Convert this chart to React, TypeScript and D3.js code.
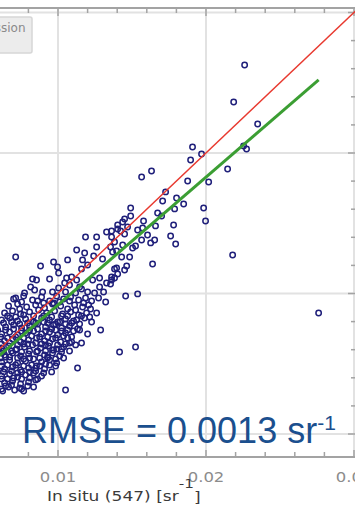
import React from 'react';
import * as d3 from 'd3';

const WIDTH = 355;
const HEIGHT = 510;

// Rrs(547) match-ups: [in situ, satellite], sr^-1
const matchups: [number, number][] = [
  // sparse upper points
  [0.02261, 0.02626], [0.02187, 0.02363], [0.02349, 0.02206], [0.01909, 0.02043],
  [0.0197, 0.01993], [0.01896, 0.0195], [0.02254, 0.0205], [0.02274, 0.02029],
  [0.02146, 0.01886], [0.01632, 0.01872], [0.01565, 0.01829], [0.01876, 0.01801],
  [0.02018, 0.01794], [0.01727, 0.01723], [0.01801, 0.0168], [0.01707, 0.01658],
  [0.01849, 0.01637], [0.01491, 0.01609], [0.01788, 0.01602], [0.01984, 0.01609],
  [0.01673, 0.01573], [0.01491, 0.01552], [0.017, 0.01552], [0.01997, 0.01516],
  [0.0145, 0.0153], [0.01437, 0.01509], [0.01578, 0.01516], [0.01781, 0.01488],
  [0.01659, 0.01481], [0.01403, 0.01488], [0.0147, 0.01473], [0.01362, 0.01445],
  [0.01423, 0.01445], [0.01538, 0.01452], [0.01572, 0.01466], [0.01605, 0.01416],
  [0.01761, 0.01409], [0.0145, 0.01424], [0.01565, 0.01381], [0.01626, 0.0136],
  [0.01653, 0.01381], [0.01795, 0.01352], [0.01362, 0.01402], [0.01437, 0.01345],
  [0.01524, 0.01338], [0.01355, 0.01331], [0.01504, 0.01324], [0.01396, 0.01303],
  [0.01369, 0.01295], [0.0143, 0.0126], [0.01484, 0.0126], [0.01639, 0.0121],
  [0.01464, 0.01196], [0.01396, 0.01182], [0.0145, 0.01167], [0.01382, 0.01175],
  [0.01403, 0.01139], [0.01362, 0.01096], [0.01355, 0.01068], [0.01457, 0.00982],
  [0.01538, 0.00997], [0.01416, 0.00584], [0.01524, 0.00619], [0.01261, 0.00861],
  [0.01288, 0.0074], [0.01132, 0.0047], [0.01051, 0.00313], [0.00754, 0.0032],
  [0.0218, 0.01274], [0.02761, 0.00861], [0.01328, 0.01438], [0.01403, 0.01459],
  [0.01382, 0.01367], [0.01301, 0.01246], [0.00714, 0.0126], [0.00882, 0.01196],
  [0.0097, 0.01224], [0.01065, 0.01239], [0.01126, 0.0131], [0.01186, 0.01402],
  [0.01261, 0.01402], [0.01261, 0.01331], [0.0118, 0.01288], [0.01241, 0.01267],
  [0.01166, 0.01239], [0.012, 0.01203], [0.01159, 0.01175], [0.00997, 0.01189],
  [0.01004, 0.01146], [0.00943, 0.01103], [0.00828, 0.01103], [0.00855, 0.01096],
  [0.00815, 0.01046], [0.00842, 0.01025], [0.00896, 0.01011], [0.00963, 0.01011],
  [0.01004, 0.01039], [0.01058, 0.0111], [0.01092, 0.01118], [0.01126, 0.01096],
  [0.01146, 0.01046], [0.01078, 0.01061], [0.01045, 0.01075], [0.01234, 0.01096],
  [0.01281, 0.0111], [0.01328, 0.01075], [0.01362, 0.01118], [0.01382, 0.0111],
  [0.01281, 0.01046], [0.01247, 0.01004], [0.012, 0.01011], [0.00714, 0.00968],
  [0.01126, 0.00811], [0.01092, 0.00655], [0.01159, 0.00648], [0.01322, 0.0094],
  [0.01274, 0.00968], [0.01207, 0.00918], [0.0093, 0.00541], [0.00849, 0.0047],
  [0.00626, 0.00306],
  // dense low-reflectance cluster
  [0.007, 0.00961], [0.00768, 0.00982], [0.00828, 0.00954], [0.00889, 0.00975],
  [0.00943, 0.00947], [0.00991, 0.00982], [0.01038, 0.00961], [0.01085, 0.00975],
  [0.01139, 0.00954], [0.01186, 0.00968], [0.01227, 0.00947],
  [0.00666, 0.00911], [0.00727, 0.00925], [0.00788, 0.00904], [0.00849, 0.00918],
  [0.00909, 0.00897], [0.00963, 0.00925], [0.01018, 0.00911], [0.01065, 0.0089],
  [0.01112, 0.00918], [0.01166, 0.00904], [0.0122, 0.0089],
  [0.00639, 0.00861], [0.00693, 0.00876], [0.00747, 0.00854], [0.00808, 0.00869],
  [0.00869, 0.00883], [0.00923, 0.00861], [0.00977, 0.00876], [0.01031, 0.00854],
  [0.01085, 0.00869], [0.01139, 0.00847], [0.01193, 0.00861],
  [0.00619, 0.00811], [0.00673, 0.00826], [0.00727, 0.00804], [0.00781, 0.00819],
  [0.00835, 0.00797], [0.00889, 0.00826], [0.00943, 0.00811], [0.00997, 0.00797],
  [0.01051, 0.00819], [0.01105, 0.00804], [0.0118, 0.00826], [0.01227, 0.00797],
  [0.00646, 0.00762], [0.007, 0.00776], [0.00754, 0.00755], [0.00808, 0.00769],
  [0.00862, 0.00783], [0.00916, 0.00762], [0.0097, 0.00776], [0.01024, 0.00755],
  [0.01078, 0.00769], [0.01132, 0.00747],
  [0.00619, 0.00712], [0.00673, 0.00726], [0.00727, 0.00705], [0.00781, 0.00719],
  [0.00835, 0.00733], [0.00889, 0.00712], [0.00943, 0.00726], [0.00997, 0.00705],
  [0.01051, 0.00719], [0.01105, 0.00733], [0.012, 0.00712],
  [0.00639, 0.00662], [0.00693, 0.00676], [0.00747, 0.00655], [0.00801, 0.00669],
  [0.00855, 0.00683], [0.00909, 0.00662], [0.00963, 0.00676], [0.01018, 0.00655],
  [0.01065, 0.00683],
  [0.00619, 0.00612], [0.00666, 0.00627], [0.0072, 0.00605], [0.00774, 0.00619],
  [0.00828, 0.00634], [0.00882, 0.00612], [0.00936, 0.00627], [0.00991, 0.00605],
  [0.01038, 0.00619],
  [0.00639, 0.00562], [0.00693, 0.00577], [0.00747, 0.00555], [0.00801, 0.0057],
  [0.00855, 0.00584], [0.00909, 0.00562], [0.00963, 0.00577], [0.01011, 0.00555],
  [0.00619, 0.00513], [0.00673, 0.00527], [0.00727, 0.00506], [0.00781, 0.0052],
  [0.00835, 0.00534], [0.00889, 0.00513], [0.00943, 0.00527], [0.00991, 0.00506],
  [0.00639, 0.00463], [0.00693, 0.00477], [0.00747, 0.00456], [0.00801, 0.0047],
  [0.00855, 0.00484], [0.00909, 0.00463],
  [0.00619, 0.00413], [0.00673, 0.00427], [0.00727, 0.00406], [0.00781, 0.0042],
  [0.00835, 0.00434], [0.00889, 0.00413],
  [0.00639, 0.00363], [0.00693, 0.00377], [0.00747, 0.00356], [0.00801, 0.0037],
  [0.00849, 0.00385],
  [0.00619, 0.0032], [0.00666, 0.00335], [0.00707, 0.00313], [0.00795, 0.00342],
  [0.00741, 0.0089], [0.00835, 0.0084], [0.0093, 0.0079], [0.01024, 0.0084],
  [0.00984, 0.0074], [0.00876, 0.00691], [0.00768, 0.00641], [0.00686, 0.00591],
  [0.00808, 0.00541], [0.00714, 0.00491], [0.00659, 0.00392], [0.00916, 0.00634],
  [0.01051, 0.00783], [0.01119, 0.00883], [0.01011, 0.0094], [0.00903, 0.00933],
  [0.00795, 0.0079], [0.00862, 0.00591], [0.00754, 0.00442], [0.00646, 0.00548],
  [0.00943, 0.00491], [0.01078, 0.00648],
  [0.00774, 0.01004], [0.01051, 0.01011], [0.01119, 0.01004], [0.01159, 0.01032],
  [0.01308, 0.01011], [0.00963, 0.00598], [0.01024, 0.00605],
  [0.00592, 0.0074], [0.00592, 0.00598], [0.00592, 0.00442],
  [0.00754, 0.0094], [0.00862, 0.00947], [0.0097, 0.00933], [0.01078, 0.00947], [0.01173, 0.00933],
  [0.00659, 0.0084], [0.00714, 0.00833], [0.00768, 0.00847], [0.00903, 0.0084],
  [0.00957, 0.00833], [0.01065, 0.0084], [0.01159, 0.0084], [0.01214, 0.00833],
  [0.00632, 0.0079], [0.00686, 0.00797], [0.00741, 0.00783], [0.00849, 0.0079],
  [0.00903, 0.00797], [0.00984, 0.00783], [0.01011, 0.00797], [0.01092, 0.0079], [0.01146, 0.00783],
  [0.00646, 0.0074], [0.007, 0.00747], [0.00754, 0.00733], [0.00808, 0.0074], [0.00862, 0.00747],
  [0.00916, 0.00733], [0.00957, 0.00747], [0.01024, 0.00733], [0.01065, 0.0074], [0.01146, 0.0074],
  [0.00612, 0.00691], [0.00659, 0.00683], [0.00714, 0.00691], [0.00768, 0.00683], [0.00822, 0.00698],
  [0.0093, 0.00691], [0.00984, 0.00683], [0.01038, 0.00698], [0.01092, 0.00691],
  [0.00619, 0.00641], [0.00673, 0.00648], [0.00727, 0.00634], [0.00795, 0.00641], [0.00849, 0.00648],
  [0.00889, 0.00641], [0.00943, 0.00648], [0.00997, 0.00634], [0.01051, 0.00641], [0.01119, 0.00634],
  [0.00632, 0.00591], [0.00714, 0.00598], [0.00754, 0.00584], [0.00808, 0.00591],
  [0.00916, 0.00591], [0.0097, 0.00598], [0.01024, 0.00584], [0.01078, 0.00591],
  [0.00612, 0.00541], [0.00673, 0.00548], [0.00727, 0.00541], [0.00768, 0.00534],
  [0.00876, 0.00541], [0.0093, 0.00548], [0.00984, 0.00534], [0.01038, 0.00541],
  [0.00619, 0.00484], [0.00659, 0.00491], [0.00768, 0.00484], [0.00822, 0.00491],
  [0.00876, 0.00484], [0.00916, 0.00498], [0.00984, 0.00484],
  [0.00632, 0.00442], [0.00686, 0.00449], [0.00727, 0.00434], [0.00808, 0.00442],
  [0.00849, 0.00449], [0.00903, 0.00434], [0.00957, 0.00442],
  [0.00619, 0.00392], [0.007, 0.00399], [0.00754, 0.00392], [0.00808, 0.00399], [0.00862, 0.00392],
  [0.00646, 0.00342], [0.00686, 0.00349], [0.00741, 0.00328], [0.00768, 0.00306], [0.00835, 0.00335],
];

// Linear regression of satellite on in situ
const fitSlope = 0.909;
const fitIntercept = 0.0001;

const xLabelTicks = [0.01, 0.02, 0.03];
const gridX = [0.01, 0.02, 0.03];
const gridY = [0.0, 0.01, 0.02, 0.03];
const legendText = 'Regression';
const rmseLabel = 'RMSE = 0.0013 sr';
const unitExponent = '-1';
const xTitle = 'In situ (547) [sr';

export default function App() {
  // plot frame (the panel is cropped on the left)
  const top = 8;
  const bottom = 457;
  const right = 356;
  const stretch = 1.22; // panel text is drawn horizontally widened

  const x = d3.scaleLinear().domain([0.01, 0.02]).range([58, 206]);
  const y = d3.scaleLinear().domain([0.01, 0.02]).range([293.5, 153]);

  const xMin = x.invert(-10);
  const xMax = x.invert(right);
  const yMin = y.invert(bottom);
  const yMax = y.invert(top);

  const minorX = d3.range(Math.ceil(xMin / 0.002), Math.floor(xMax / 0.002) + 1).map((k) => +(k * 0.002).toFixed(4));
  const minorY = d3.range(Math.ceil(yMin / 0.002), Math.floor(yMax / 0.002) + 1).map((k) => +(k * 0.002).toFixed(4));
  const isMajor = (v: number) => Math.abs(v / 0.01 - Math.round(v / 0.01)) < 1e-6;

  const line = d3.line<[number, number]>().x((d) => x(d[0])).y((d) => y(d[1]));
  const oneToOne: [number, number][] = [[Math.max(xMin, yMin), Math.max(xMin, yMin)], [Math.min(xMax, yMax), Math.min(xMax, yMax)]];
  const [fitLo, fitHi] = d3.extent(matchups, (d) => d[0]) as [number, number];
  const fitLine: [number, number][] = [
    [fitLo, fitSlope * fitLo + fitIntercept],
    [fitHi, fitSlope * fitHi + fitIntercept],
  ];

  const axisGray = '#a3a3a3';
  const gridGray = '#e2e2e2';

  return (
    <svg
      width={WIDTH}
      height={HEIGHT}
      style={{ position: 'absolute', left: 0, top: 0, background: '#fff', display: 'block' }}
      fontFamily="'DejaVu Sans', sans-serif"
    >
      <defs>
        <clipPath id="plot-clip">
          <rect x={-20} y={top} width={right + 20} height={bottom - top} />
        </clipPath>
      </defs>
      <rect x={0} y={0} width={WIDTH} height={HEIGHT} fill="#fff" />

      {/* grid */}
      <g stroke={gridGray} strokeWidth={2}>
        {gridX.map((v) => (
          <line key={'gx' + v} x1={x(v)} x2={x(v)} y1={top} y2={bottom} />
        ))}
        {gridY.map((v) => (
          <line key={'gy' + v} x1={-5} x2={right} y1={y(v)} y2={y(v)} />
        ))}
      </g>

      {/* frame and ticks */}
      <g stroke={axisGray} strokeWidth={1.5}>
        <line x1={-5} x2={right} y1={top} y2={top} strokeWidth={2} />
        <line x1={-5} x2={right} y1={bottom} y2={bottom} strokeWidth={2} />
        <line x1={right} x2={right} y1={top} y2={bottom} strokeWidth={2} />
        {minorX.map((v) => (
          <g key={'tx' + v}>
            <line x1={x(v)} x2={x(v)} y1={top} y2={top + (isMajor(v) ? 8 : 5)} />
            <line x1={x(v)} x2={x(v)} y1={bottom} y2={bottom - (isMajor(v) ? 7 : 5)} />
          </g>
        ))}
        {minorY.map((v) => (
          <line key={'ty' + v} x1={right} x2={right - (isMajor(v) ? 8 : 5)} y1={y(v)} y2={y(v)} />
        ))}
      </g>

      {/* legend box */}
      <rect x={-6} y={17} width={38} height={36} rx={2} fill="#ececec" stroke="#d6d6d6" strokeWidth={1.5} />
      <text x={25.5} y={31.5} textAnchor="end" fontSize={12} fill="#8a8a8a">
        {legendText}
      </text>

      {/* match-up points */}
      <g clipPath="url(#plot-clip)" fill="none" stroke="#1f1f7a" strokeWidth={1.5}>
        {matchups.map((d, i) => (
          <circle key={i} cx={x(d[0])} cy={y(d[1])} r={2.7} />
        ))}
      </g>

      {/* 1:1 and regression lines */}
      <g clipPath="url(#plot-clip)" fill="none">
        <path d={line(oneToOne) ?? ''} stroke="#e8392f" strokeWidth={1.5} />
        <path d={line(fitLine) ?? ''} stroke="#3b9e33" strokeWidth={3} />
      </g>

      {/* RMSE annotation */}
      <text x={22} y={443} fontFamily="'Liberation Sans', Arial, sans-serif" fontSize={36} fill="#1b4f8e">
        {rmseLabel}
        <tspan fontSize={21} dy={-13}>{unitExponent}</tspan>
      </text>

      {/* x tick labels */}
      {xLabelTicks.map((v) => (
        <text
          key={'lx' + v}
          transform={`translate(${x(v)},482) scale(${stretch},1)`}
          textAnchor="middle"
          fontSize={13.5}
          fill="#8c8c8c"
        >
          {d3.format('.2f')(v)}
        </text>
      ))}

      {/* x axis title */}
      <text transform={`translate(47,501) scale(${stretch},1)`} fontSize={14} fill="#3a3a3a">
        {xTitle}
        <tspan fontSize={12.5} dy={-13}>{unitExponent}</tspan>
        <tspan dy={14}>]</tspan>
      </text>
    </svg>
  );
}
